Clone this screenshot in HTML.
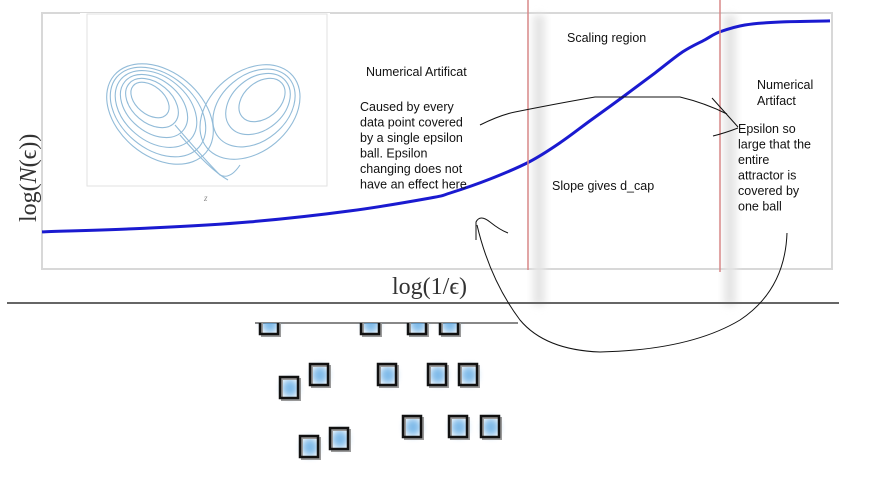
<!DOCTYPE html>
<html><head><meta charset="utf-8"><style>
html,body{margin:0;padding:0;background:#fff;width:895px;height:500px;overflow:hidden}
.ann{font-size:12.5px;fill:#111;font-family:"Liberation Sans",sans-serif}
</style></head><body>
<svg width="895" height="500" viewBox="0 0 895 500">
<defs>
<filter id="blur" x="-50%" y="-50%" width="200%" height="200%"><feGaussianBlur stdDeviation="4"/></filter>
<filter id="blur2" x="-80%" y="-80%" width="260%" height="260%"><feGaussianBlur stdDeviation="3.5"/></filter>
<clipPath id="boxclip"><rect x="240" y="323" width="290" height="150"/></clipPath>
</defs>
<rect x="42" y="13" width="790" height="256" fill="none" stroke="#d8d8d8" stroke-width="2"/>
<rect x="533" y="15" width="12" height="290" fill="#e4e4e4" filter="url(#blur)"/>
<rect x="724" y="15" width="12" height="290" fill="#e4e4e4" filter="url(#blur)"/>
<line x1="7" y1="303" x2="839" y2="303" stroke="#666" stroke-width="2"/>
<g>
<rect x="80" y="13" width="250" height="182" fill="#fff"/>
<rect x="87" y="14" width="240" height="172" fill="none" stroke="#e2e2e2" stroke-width="1"/>
<g fill="none" stroke="#7fb0d2" stroke-width="1.1" opacity="0.85">
<ellipse cx="150" cy="100" rx="22" ry="14" transform="rotate(40 150 100)"/>
<ellipse cx="152" cy="103" rx="30" ry="20" transform="rotate(40 152 103)"/>
<ellipse cx="154" cy="106" rx="38" ry="26" transform="rotate(40 154 106)"/>
<ellipse cx="156" cy="109" rx="46" ry="32" transform="rotate(40 156 109)"/>
<ellipse cx="158" cy="112" rx="54" ry="37" transform="rotate(40 158 112)"/>
<ellipse cx="160" cy="114" rx="60" ry="42" transform="rotate(40 160 114)"/>
<ellipse cx="262" cy="100" rx="26" ry="18" transform="rotate(-40 262 100)"/>
<ellipse cx="258" cy="104" rx="36" ry="26" transform="rotate(-40 258 104)"/>
<ellipse cx="254" cy="108" rx="46" ry="33" transform="rotate(-40 254 108)"/>
<ellipse cx="250" cy="112" rx="56" ry="40" transform="rotate(-40 250 112)"/>
<path d="M175 125 Q205 160 220 175 Q230 180 240 165"/>
<path d="M180 135 Q210 170 228 180"/>
</g>
<text x="204" y="201" font-size="9" fill="#888" font-style="italic" style="font-family:'Liberation Serif',serif">z</text>
</g>
<g id="curve"></g>
<line x1="528" y1="0" x2="528" y2="270" stroke="#d88888" stroke-width="1.5"/>
<line x1="720" y1="0" x2="720" y2="272" stroke="#d88888" stroke-width="1.5"/>
<text x="0" y="0" transform="translate(36,222) rotate(-90)" font-size="24" fill="#333" style="font-family:'Liberation Serif',serif">log(<tspan font-style="italic">N</tspan>(ϵ))</text>
<text x="392" y="294" font-size="24" fill="#333" style="font-family:'Liberation Serif',serif">log(1/ϵ)</text>
<text x="366" y="76" class="ann">Numerical Artificat</text>
<text class="ann"><tspan x="360" y="111">Caused by every</tspan><tspan x="360" y="126.5">data point covered</tspan><tspan x="360" y="142">by a single epsilon</tspan><tspan x="360" y="157.5">ball. Epsilon</tspan><tspan x="360" y="173">changing does not</tspan><tspan x="360" y="188.5">have an effect here</tspan></text>
<text x="567" y="42" class="ann">Scaling region</text>
<text x="552" y="190" class="ann">Slope gives d_cap</text>
<text class="ann"><tspan x="757" y="89">Numerical</tspan><tspan x="757" y="105">Artifact</tspan></text>
<text class="ann"><tspan x="738" y="133">Epsilon so</tspan><tspan x="738" y="148.5">large that the</tspan><tspan x="738" y="164">entire</tspan><tspan x="738" y="179.5">attractor is</tspan><tspan x="738" y="195">covered by</tspan><tspan x="738" y="210.5">one ball</tspan></text>
<g fill="none" stroke="#111" stroke-width="1">
<path d="M480 125 Q500 115 515 112 Q560 103 595 97 L680 97 Q705 103 727 114"/>
<path d="M712 98 L738 127 M713 136 Q725 133 738 128"/>
<path d="M787 233 Q785 290 740 320 Q690 350 600 352 Q545 350 520 320 Q490 280 477 225"/>
<path d="M476 240 L476 222 Q480 214 490 222 Q500 230 508 233"/>
</g>
<g>
<line x1="255" y1="323" x2="518" y2="323" stroke="#111" stroke-width="1"/>
<g id="boxes" clip-path="url(#boxclip)"></g>
</g>
</svg>
<script>
// curve data in plot coordinates (x: 0-1 along log(1/eps), y: 0-1 along log N)
const xs = [0,0.137,0.264,0.391,0.492,0.518,0.569,0.618,0.657,0.695,0.737,0.778,0.813,0.841,0.860,0.892,0.937,1];
const ys = [0.145,0.160,0.184,0.227,0.277,0.297,0.352,0.418,0.492,0.578,0.672,0.766,0.848,0.895,0.926,0.953,0.965,0.969];
const x0=42,x1=830,y0=269,y1=13;
const sx=v=>x0+v*(x1-x0), sy=v=>y0-v*(y0-y1);
const ns="http://www.w3.org/2000/svg";
const cg=document.getElementById('curve');
const P=xs.map((x,i)=>[sx(x),sy(ys[i])]);
let d='M'+P[0][0].toFixed(1)+' '+P[0][1].toFixed(1);
for(let i=0;i<P.length-1;i++){
 const p0=P[Math.max(i-1,0)],p1=P[i],p2=P[i+1],p3=P[Math.min(i+2,P.length-1)];
 const c1=[p1[0]+(p2[0]-p0[0])/6,p1[1]+(p2[1]-p0[1])/6];
 const c2=[p2[0]-(p3[0]-p1[0])/6,p2[1]-(p3[1]-p1[1])/6];
 d+=`C${c1[0].toFixed(1)} ${c1[1].toFixed(1)} ${c2[0].toFixed(1)} ${c2[1].toFixed(1)} ${p2[0].toFixed(1)} ${p2[1].toFixed(1)}`;
}
const p=document.createElementNS(ns,'path');
p.setAttribute('d',d);p.setAttribute('fill','none');p.setAttribute('stroke','#1a1ad0');p.setAttribute('stroke-width','3');p.setAttribute('stroke-linejoin','round');


cg.appendChild(p);
const bx=[260,361,408,440,280,310,378,428,459,300,330,403,449,481];
const by=[313,313,313,313,377,364,364,364,364,436,428,416,416,416];
const bg=document.getElementById('boxes');
bx.forEach((x,i)=>{
 const c=document.createElementNS(ns,'ellipse');
 c.setAttribute('cx',x+10);c.setAttribute('cy',by[i]+11);c.setAttribute('rx',8);c.setAttribute('ry',9);
 c.setAttribute('fill','#4a9ee0');c.setAttribute('opacity','0.7');c.setAttribute('filter','url(#blur2)');
 
 
 bg.appendChild(c);
 const s=document.createElementNS(ns,'rect');
 s.setAttribute('x',x+2);s.setAttribute('y',by[i]+2);s.setAttribute('width',18);s.setAttribute('height',21);
 s.setAttribute('fill','none');s.setAttribute('stroke','#999');s.setAttribute('stroke-width','2');
 
 
 bg.appendChild(s);
 const r=document.createElementNS(ns,'rect');
 r.setAttribute('x',x);r.setAttribute('y',by[i]);r.setAttribute('width',18);r.setAttribute('height',21);
 r.setAttribute('fill','none');r.setAttribute('stroke','#111');r.setAttribute('stroke-width','2.5');
 
 
 bg.appendChild(r);
});
</script>
</body></html>
